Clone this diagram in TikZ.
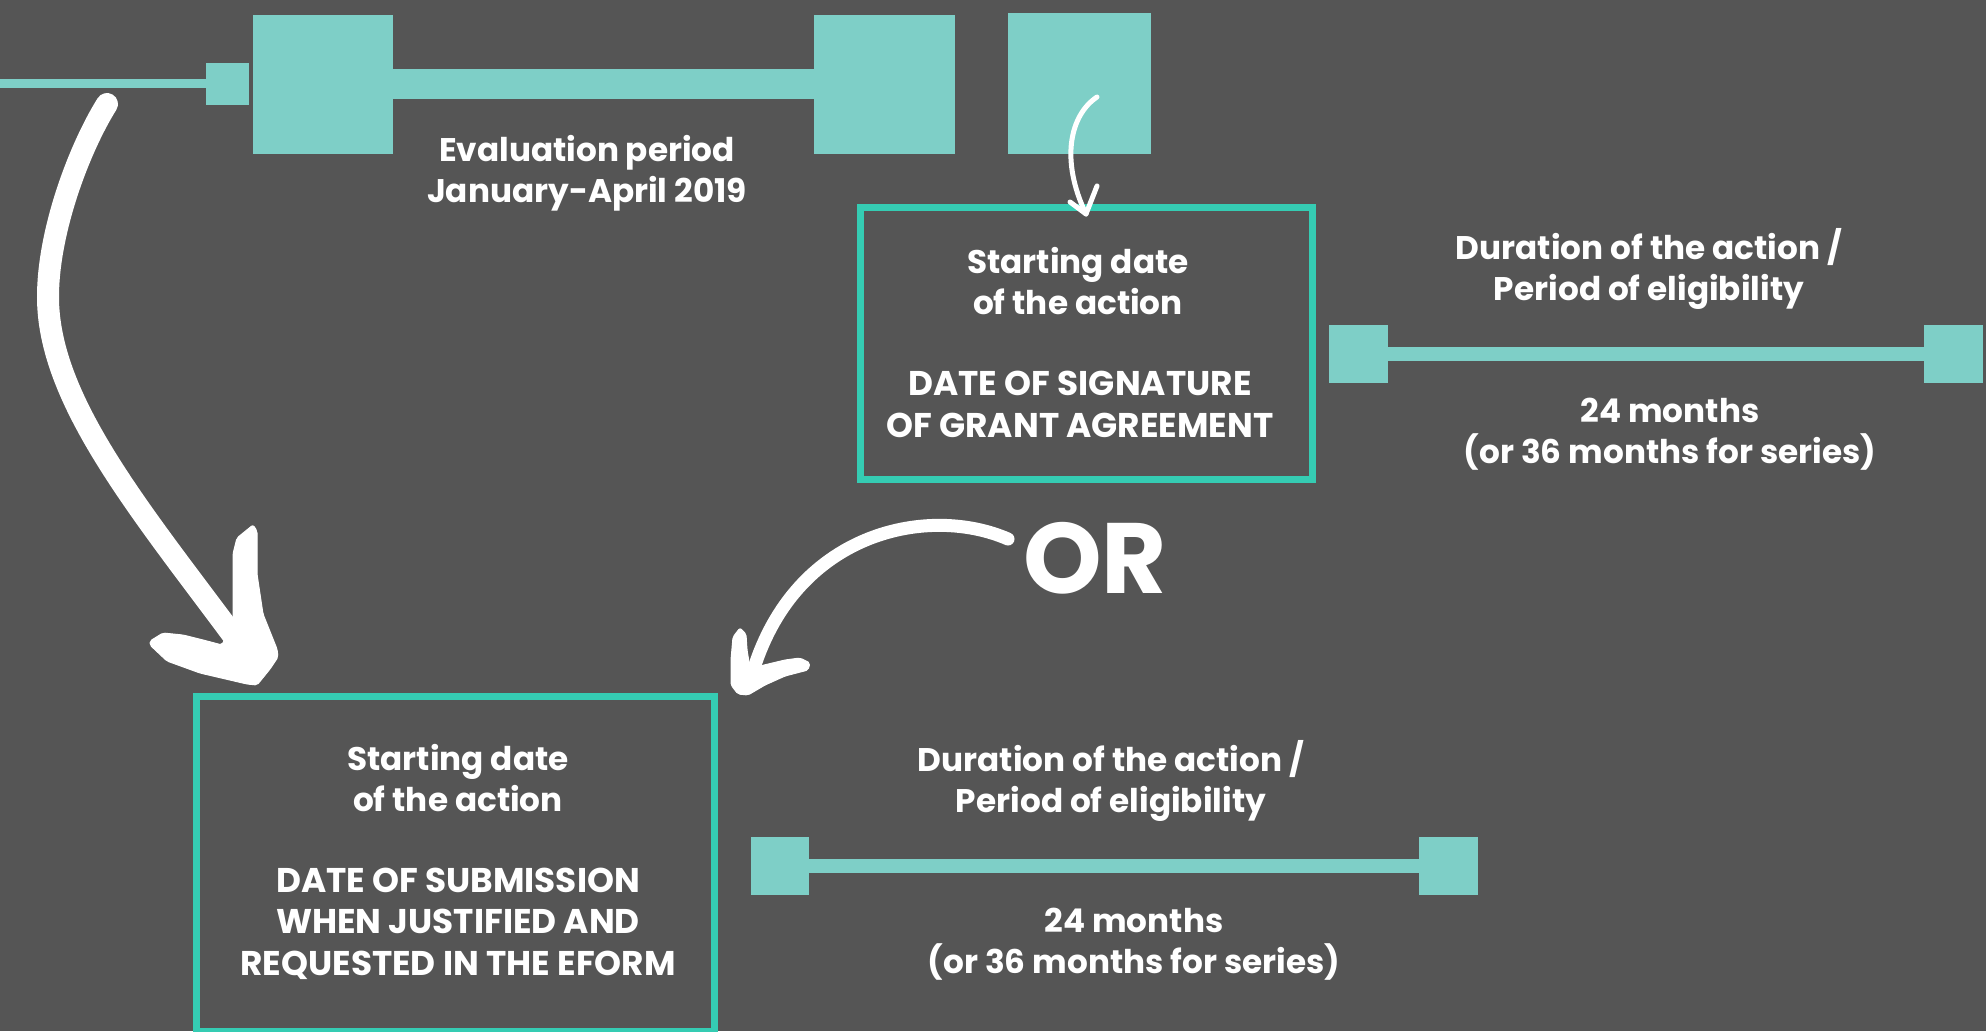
\documentclass[tikz,border=0pt]{standalone}
\usepackage{fontspec}
\setmainfont{Poppins}
\newfontfamily\orfont{Poppins}
\definecolor{bg}{HTML}{555555}
\definecolor{sq}{HTML}{7ECFC7}
\definecolor{frame}{HTML}{35CCB3}
\tikzset{
  sqr/.style={fill=sq, draw=none, inner sep=0pt, outer sep=0pt, anchor=north west, rectangle},
  frm/.style={draw=frame, line width=7pt, inner sep=0pt, outer sep=0pt, anchor=north west, rectangle},
  txt/.style={text=white, font=\bfseries\fontsize{32.7}{41}\selectfont, align=center, anchor=base, inner sep=0pt},
  captxt/.style={txt, font=\bfseries\fontsize{34.3}{41.5}\selectfont},
  brush/.style={draw=white, line cap=round},
  head/.style={fill=white, draw=white, line width=1pt, line join=round, rounded corners=2pt},
}
\begin{document}
\begin{tikzpicture}[x=1pt, y=-1pt]
\fill[bg] (0,0) rectangle (1986,1031);
\useasboundingbox (0,0) rectangle (1986,1031);

% top timeline
\node[sqr, minimum width=206pt, minimum height=9pt] (thin) at (0,79) {};
\node[sqr, minimum width=43pt, minimum height=42pt] (small) at (206,63) {};
\node[sqr, minimum width=140pt, minimum height=139pt] (sqA) at (253,15) {};
\node[sqr, minimum width=421pt, minimum height=30pt] (barA) at (393,69) {};
\node[sqr, minimum width=141pt, minimum height=139pt] (sqB) at (814,15) {};
\node[sqr, minimum width=143pt, minimum height=141pt] (sqC) at (1008,13) {};

% frames
\node[frm, minimum width=452pt, minimum height=272pt] (box1) at (860.5,207.5) {};
\node[frm, minimum width=518pt, minimum height=335pt] (box2) at (196.5,696.5) {};

% right timeline
\node[sqr, minimum width=59pt, minimum height=58pt] (t1l) at (1329,325) {};
\node[sqr, minimum width=536pt, minimum height=14pt] (t1bar) at (1388,347) {};
\node[sqr, minimum width=59pt, minimum height=58pt] (t1r) at (1924,325) {};

% lower timeline
\node[sqr, minimum width=58pt, minimum height=58pt] (t2l) at (751,837) {};
\node[sqr, minimum width=610pt, minimum height=14pt] (t2bar) at (809,859) {};
\node[sqr, minimum width=59pt, minimum height=58pt] (t2r) at (1419,837) {};

% texts (anchor = baseline of last line)
\node[txt] (evaltxt) at (587,202) {Evaluation period\\January-April 2019};
\node[txt] (b1a) at (1078,314) {Starting date\\of the action};
\node[captxt] (b1b) at (1080,437) {DATE OF SIGNATURE\\OF GRANT AGREEMENT};
\node[txt] (d1a) at (1649,300) {Duration of the action /\\Period of eligibility};
\node[txt] (d1b) at (1670,463) {24 months\\(or 36 months for series)};
\node[txt] (b2a) at (458,811) {Starting date\\of the action};
\node[captxt] (b2b) at (458,975) {DATE OF SUBMISSION\\WHEN JUSTIFIED AND\\REQUESTED IN THE EFORM};
\node[txt] (d2a) at (1111,812) {Duration of the action /\\Period of eligibility};
\node[txt] (d2b) at (1134,973) {24 months\\(or 36 months for series)};
\node[text=white, font=\orfont\bfseries\fontsize{100}{100}\selectfont, anchor=base, inner sep=0pt] (ortxt) at (1095,593) {OR};

% big left arrow
\coordinate (a1s) at (107,104);
\coordinate (a1m) at (48,297);
\coordinate (a1e) at (235,638);
\draw[brush, line width=22pt] (a1s) .. controls (80,147) and (48,230) .. (a1m) .. controls (48,400) and (140,510) .. (a1e);
\filldraw[head] (150,641) -- (163,633) -- (183,635) -- (207,641) -- (222,645) -- (233,621) -- (233,554) -- (237,538) -- (253,525) -- (257,531) -- (257,574) -- (263,614) -- (277,649) -- (278,657) -- (270,669) -- (257,685) -- (247,684) -- (200,673) -- (167,661) -- (150,645) -- cycle;

% OR arrow
\coordinate (a2s) at (1008,539);
\coordinate (a2e) at (755,665);
\draw[brush, line width=13pt] (a2s) .. controls (930,505) and (800,530) .. (a2e);
\filldraw[head] (740,628) -- (746,634) -- (747,650) -- (750,668) -- (760,666) -- (785,660) -- (800,658) -- (810,663) -- (808,670) -- (785,676) -- (765,685) -- (748,695) -- (738,694) -- (731,685) -- (731,660) -- (733,637) -- cycle;

% small arrow
\coordinate (a3s) at (1097,97);
\coordinate (a3e) at (1086,214);
\draw[brush, line width=5pt] (a3s) .. controls (1070,115) and (1060,160) .. (a3e);
\draw[brush, line width=5pt, line join=round] (1070,202) -- (a3e) -- (1097,186);
\end{tikzpicture}
\end{document}
